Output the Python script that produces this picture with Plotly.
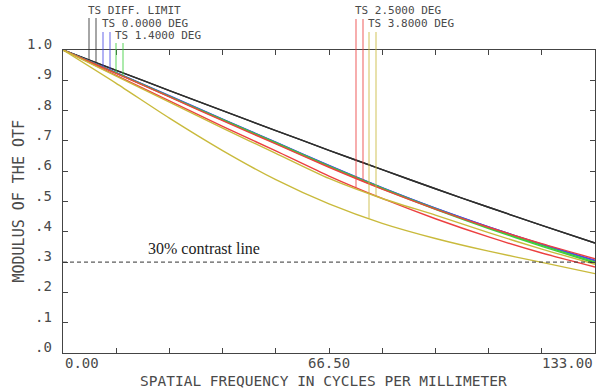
import numpy as np
import plotly.graph_objects as go

# ---- data ----
FREQ = [0.0, 13.3, 26.6, 39.9, 53.2, 66.5, 79.8, 93.1, 106.4, 119.7, 133.0]
DIFF_T = [1.000, 0.933, 0.866, 0.800, 0.734, 0.669, 0.605, 0.542, 0.481, 0.421, 0.363]
DIFF_S = [1.000, 0.933, 0.866, 0.800, 0.734, 0.669, 0.605, 0.542, 0.481, 0.421, 0.363]
F00_T = [1.000, 0.925, 0.848, 0.771, 0.695, 0.618, 0.545, 0.478, 0.416, 0.359, 0.306]
F00_S = [1.000, 0.925, 0.849, 0.772, 0.696, 0.619, 0.546, 0.478, 0.416, 0.358, 0.304]
F14_T = [1.000, 0.924, 0.847, 0.770, 0.694, 0.617, 0.544, 0.476, 0.413, 0.355, 0.300]
F14_S = [1.000, 0.924, 0.846, 0.769, 0.692, 0.615, 0.542, 0.474, 0.411, 0.352, 0.297]
F25_T = [1.000, 0.916, 0.832, 0.748, 0.667, 0.584, 0.510, 0.443, 0.383, 0.330, 0.284]
F25_S = [1.000, 0.923, 0.845, 0.767, 0.690, 0.613, 0.541, 0.475, 0.415, 0.361, 0.311]
F38_T = [1.000, 0.890, 0.775, 0.668, 0.572, 0.492, 0.428, 0.378, 0.336, 0.299, 0.262]
F38_S = [1.000, 0.914, 0.828, 0.742, 0.659, 0.576, 0.510, 0.455, 0.397, 0.343, 0.293]

LEGEND_NAMES = ["TS DIFF. LIMIT", "TS 0.0000 DEG", "TS 1.4000 DEG", "TS 2.5000 DEG", "TS 3.8000 DEG"]
Y_TICK_VALS = [1.0, 0.9, 0.8, 0.7, 0.6, 0.5, 0.4, 0.3, 0.2, 0.1, 0.0]
Y_TICK_LABELS = ["1.0", ".9", ".8", ".7", ".6", ".5", ".4", ".3", ".2", ".1", ".0"]
X_TICK_VALS = [0.0, 66.5, 133.0]
X_TICK_LABELS = ["0.00", "66.50", "133.00"]
CONTRAST_LEVEL = 0.3
CONTRAST_TEXT = "30% contrast line"
X_TITLE = "SPATIAL FREQUENCY IN CYCLES PER MILLIMETER"
Y_TITLE = "MODULUS OF THE OTF"

# ---- styling ----
series = [
    (LEGEND_NAMES[0], DIFF_T, DIFF_S, "#2e2e2e"),
    (LEGEND_NAMES[1], F00_T, F00_S, "#4a4ae6"),
    (LEGEND_NAMES[2], F14_T, F14_S, "#3ccf3c"),
    (LEGEND_NAMES[3], F25_T, F25_S, "#ec4040"),
    (LEGEND_NAMES[4], F38_T, F38_S, "#c9ba3c"),
]
# legend drop-line layout: (freq of T line, freq of S line, label y, line top y)
legend_layout = [
    (6.5, 8.25, 1.132, 1.106),
    (10.0, 11.75, 1.089, 1.059),
    (13.25, 15.0, 1.049, 1.023),
    (73.25, 75.0, 1.129, 1.102),
    (76.5, 78.25, 1.089, 1.059),
]
TXT = "#4a4a4a"
MONO = "DejaVu Sans Mono"

fig = go.Figure()
for name, t, s, col in series:
    for arr in (t, s):
        fig.add_trace(go.Scatter(x=FREQ, y=arr, mode="lines",
                                 line=dict(color=col, width=1.4, shape="spline", smoothing=0.6),
                                 showlegend=False, hoverinfo="skip"))

shapes = []
annotations = []
for (name, t, s, col), (fx_t, fx_s, ly, ltop) in zip(series, legend_layout):
    for fx, arr in ((fx_t, t), (fx_s, s)):
        yend = float(np.interp(fx, FREQ, arr))
        shapes.append(dict(type="line", xref="x", yref="paper", x0=fx, x1=fx, y0=yend, y1=ltop,
                           line=dict(color=col, width=1.3), opacity=0.65))
    annotations.append(dict(text=name, xref="x", yref="paper", x=fx_t, y=ly, xanchor="left",
                            yanchor="middle", xshift=-3, showarrow=False,
                            font=dict(family=MONO, size=11, color=TXT)))

# 30% contrast line
shapes.append(dict(type="line", xref="paper", yref="y", x0=0, x1=1, y0=CONTRAST_LEVEL, y1=CONTRAST_LEVEL,
                   line=dict(color="#333333", width=1, dash="4px,3px")))
annotations.append(dict(text=CONTRAST_TEXT, xref="x", yref="y", x=35.2, y=CONTRAST_LEVEL,
                        yanchor="bottom", yshift=3, showarrow=False,
                        font=dict(family="Liberation Serif", size=16, color="#222222")))

# tick labels
for v, lab in zip(Y_TICK_VALS, Y_TICK_LABELS):
    annotations.append(dict(text=lab, xref="paper", yref="y", x=0, y=v, xanchor="right",
                            yanchor="middle", xshift=-9, yshift=6, showarrow=False,
                            font=dict(family=MONO, size=14, color=TXT)))
for v, lab, anc in zip(X_TICK_VALS, X_TICK_LABELS, ["left", "center", "right"]):
    annotations.append(dict(text=lab, xref="x", yref="paper", x=v, y=0, xanchor=anc,
                            yanchor="top", yshift=0, showarrow=False,
                            font=dict(family=MONO, size=14, color=TXT)))
# axis titles
annotations.append(dict(text=X_TITLE, xref="paper", yref="paper", x=0.49, y=0, xanchor="center",
                        yanchor="middle", yshift=-28, showarrow=False,
                        font=dict(family=MONO, size=14.5, color=TXT)))
annotations.append(dict(text=Y_TITLE, xref="paper", yref="paper", x=0, y=0.5, xanchor="center",
                        yanchor="middle", xshift=-45, textangle=-90, showarrow=False,
                        font=dict(family=MONO, size=15, color=TXT)))

axis_common = dict(showgrid=False, zeroline=False, showline=True, linecolor="#444444", linewidth=1,
                   mirror="ticks", ticks="inside", ticklen=5, tickcolor="#444444", tickwidth=1,
                   showticklabels=False)
fig.update_layout(
    width=601, height=388,
    margin=dict(l=63, r=6, t=50, b=35),
    plot_bgcolor="white", paper_bgcolor="white",
    xaxis=dict(range=[0, 133], tick0=0, dtick=13.3, **axis_common),
    yaxis=dict(range=[0, 1], tick0=0, dtick=0.1, **axis_common),
    shapes=shapes, annotations=annotations, showlegend=False,
)
fig.write_html("out.html", config={"displayModeBar": False},
               post_script="document.body.style.margin='0';document.body.style.overflow='hidden';")
